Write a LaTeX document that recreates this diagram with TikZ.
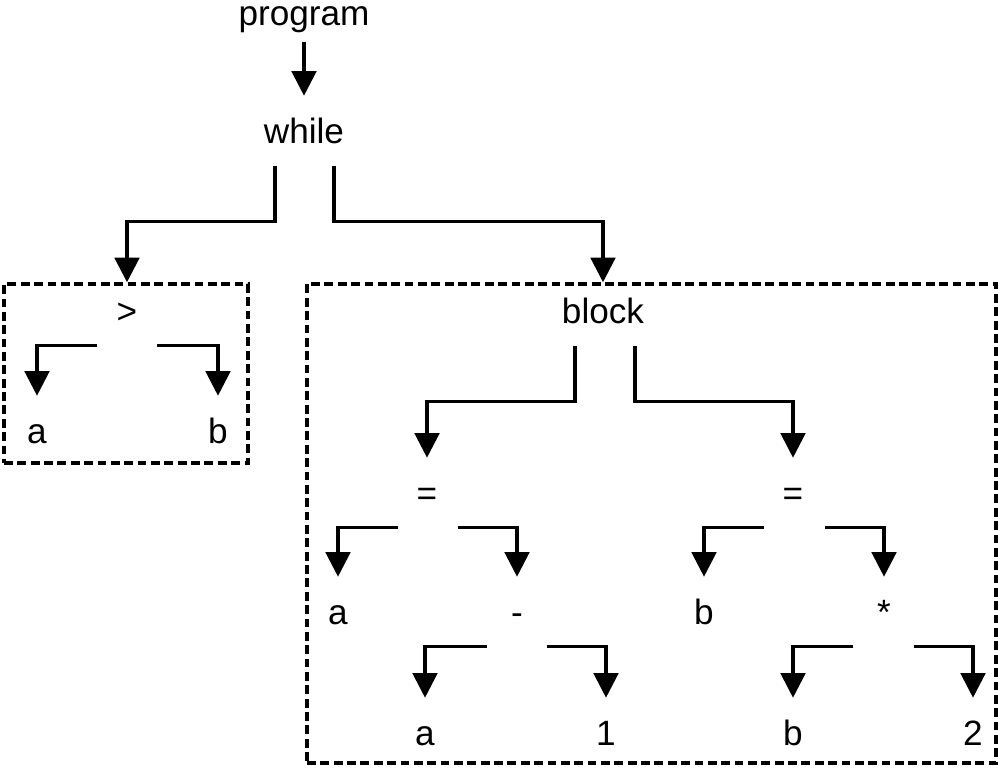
\documentclass[tikz,border=0pt]{standalone}
\usepackage{fontspec}
\setmainfont{Liberation Sans}
\usetikzlibrary{arrows.meta,fit,calc}

\begin{document}
\begin{tikzpicture}[
  x=0.01cm, y=-0.01cm,
  font=\fontsize{10}{12}\selectfont,
  lbl/.style={anchor=base, inner xsep=1pt, inner ysep=6pt, text height=7pt, text depth=0pt},
  grp/.style={draw, line width=1pt, dash pattern=on 2.5pt off 1.3pt, inner sep=0pt},
  >={Triangle[length=7pt, width=7pt]},
  line width=0.9pt
]
\useasboundingbox (0,0) rectangle (1000,769);
\node[lbl] (prog) at (304,25) {program};
\node[lbl] (while) at (304,143) {while};
\node[lbl] (gt) at (127,323) {>};
\node[lbl] (ga) at (37,443) {a};
\node[lbl] (gb) at (218,443) {b};
\node[grp, fit={(4,284) (248,463)}] (lbox) {};
\node[lbl] (block) at (603,323) {block};
\node[lbl] (eqa) at (427,505) {=};
\node[lbl] (ava) at (338,624) {a};
\node[lbl] (minus) at (517,624) {-};
\node[lbl] (ma) at (425,745) {a};
\node[lbl] (mone) at (606,745) {1};
\node[lbl] (eqb) at (793,505) {=};
\node[lbl] (bvb) at (704,624) {b};
\node[lbl] (times) at (884,624) {*};
\node[lbl] (tb) at (793,745) {b};
\node[lbl] (ttwo) at (973,745) {2};
\node[grp, fit={(307,284) (996,763)}] (rbox) {};
\draw[->] ([yshift=1.7pt]prog.south) -- (while.north);
\draw[->] ($(while.south)+(-29,0)$) -- ++(0,56) -| (gt |- lbox.north);
\draw[->] ($(while.south)+(30,0)$) -- ++(0,56) -| (block |- rbox.north);
\draw[->] ($(gt.south)+(-30,0)$) -| (ga.north);
\draw[->] ($(gt.south)+(30,0)$) -| (gb.north);
\draw[->] ($(block.south)+(-28,0)$) -- ++(0,56) -| (eqa.north);
\draw[->] ($(block.south)+(32,0)$) -- ++(0,56) -| (eqb.north);
\draw[->] ($(eqa.south)+(-29,0)$) -| (ava.north);
\draw[->] ($(eqa.south)+(31,0)$) -| (minus.north);
\draw[->] ($(minus.south)+(-30,0)$) -| (ma.north);
\draw[->] ($(minus.south)+(30,0)$) -| (mone.north);
\draw[->] ($(eqb.south)+(-29,0)$) -| (bvb.north);
\draw[->] ($(eqb.south)+(32,0)$) -| (times.north);
\draw[->] ($(times.south)+(-31,0)$) -| (tb.north);
\draw[->] ($(times.south)+(30,0)$) -| (ttwo.north);
\end{tikzpicture}
\end{document}
